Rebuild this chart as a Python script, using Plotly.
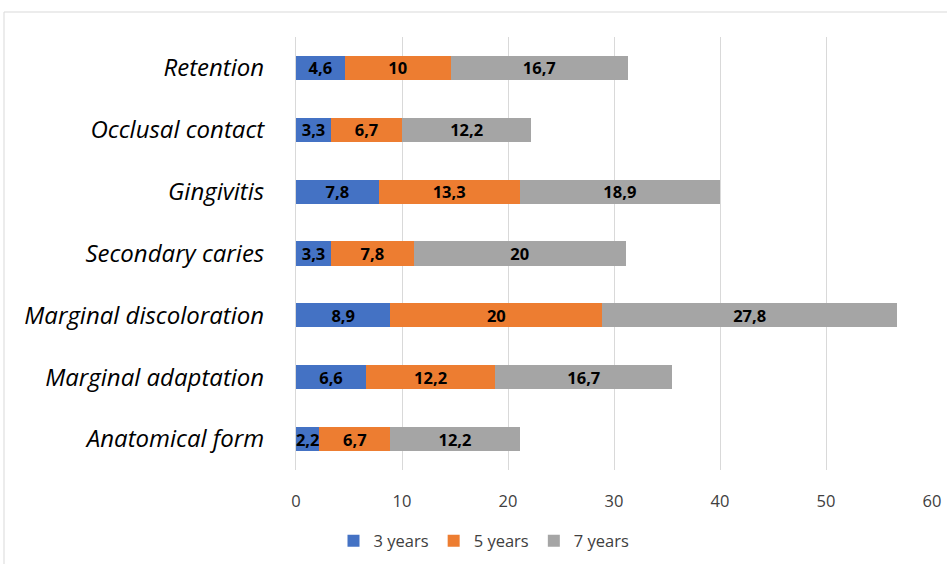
import plotly.graph_objects as go

categories = ["Anatomical form", "Marginal adaptation", "Marginal discoloration",
              "Secondary caries", "Gingivitis", "Occlusal contact", "Retention"]
years3 = [2.2, 6.6, 8.9, 3.3, 7.8, 3.3, 4.6]
years5 = [6.7, 12.2, 20, 7.8, 13.3, 6.7, 10]
years7 = [12.2, 16.7, 27.8, 20, 18.9, 12.2, 16.7]
series_names = ["3 years", "5 years", "7 years"]
colors = ["#4472C4", "#ED7D31", "#A5A5A5"]

def fmt(v):
    return (("%g" % v).replace(".", ","))

FONT = "Open Sans"

fig = go.Figure()
for name, vals, col in zip(series_names, [years3, years5, years7], colors):
    fig.add_trace(go.Bar(
        y=categories, x=vals, name=name, orientation="h",
        marker=dict(color=col, line=dict(width=0)),
        text=[fmt(v) for v in vals], textposition="inside",
        insidetextanchor="middle", textangle=0, constraintext="none",
        textfont=dict(family=FONT, size=16.5, color="black", weight="bold"),
        cliponaxis=False,
    ))

L, R, T, B = 296, 15, 37, 94
W, H = 947, 564
pw = W - L - R
ph = H - T - B

fig.update_layout(
    width=W, height=H, barmode="stack", bargap=0.61,
    margin=dict(l=L, r=R, t=T, b=B, autoexpand=False),
    paper_bgcolor="white", plot_bgcolor="white",
    font=dict(family=FONT, color="#404040"),
    xaxis=dict(range=[0, 60], dtick=10, showgrid=True, gridcolor="#d9d9d9",
               gridwidth=1, zeroline=False, showline=False,
               tickfont=dict(size=16.5, color="#404040"), ticklen=0,
               ticklabelstandoff=19, automargin=False),
    yaxis=dict(showgrid=False, zeroline=False, showline=True, linecolor="#d9d9d9",
               tickfont=dict(size=24, color="black", style="italic"),
               ticklabelstandoff=26, ticks="", automargin=False),
    legend=dict(orientation="h", x=(484 - L) / pw, xanchor="center",
                y=(H - B - 541) / ph, yanchor="middle",
                font=dict(size=16.5, color="#404040"), itemwidth=30,
                traceorder="normal"),
    showlegend=True,
)
fig.add_shape(type="rect", xref="paper", yref="paper",
              x0=(4 - L) / pw, x1=(960 - L) / pw,
              y0=(H - B - 600) / ph, y1=(H - B - 12) / ph,
              line=dict(color="#d9d9d9", width=1), fillcolor="rgba(0,0,0,0)",
              layer="below")
fig.write_html("out.html")
